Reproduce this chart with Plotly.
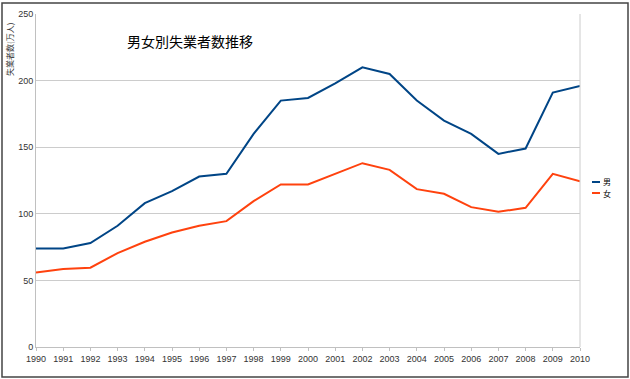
import plotly.graph_objects as go

years = [str(y) for y in range(1990, 2011)]
male = [74, 74, 78, 91, 108, 117, 128, 130, 160, 185, 187, 198, 210, 205, 185, 170, 160, 145, 149, 191, 196]
female = [56, 58.5, 59.5, 70.5, 79, 86, 91, 94.5, 109.5, 122, 122, 130, 138, 133, 118.5, 115, 105, 101.5, 104.5, 130, 124.5]
yticks = [0, 50, 100, 150, 200, 250]
series_names = ["男", "女"]
series_colors = ["#004586", "#ff420e"]

FONT = "Noto Sans CJK JP"
W, H = 630, 379
L, R, T, B = 36, 50, 14, 32
pw, ph = W - L - R, H - T - B

def px(x):
    return (x - L) / pw

def py(y):
    return (H - B - y) / ph

fig = go.Figure()
for name, vals, col in zip(series_names, [male, female], series_colors):
    fig.add_trace(go.Scatter(x=years, y=vals, name=name, mode="lines",
                             line=dict(color=col, width=2)))

annotations = [dict(text="男女別失業者数推移", x=px(190), y=py(41), xref="paper", yref="paper",
                    showarrow=False, font=dict(size=14, family=FONT, color="#000000"),
                    xanchor="center", yanchor="middle"),
               dict(text="失業者数(万人)", x=px(9), y=py(50), xref="paper", yref="paper",
                    showarrow=False, textangle=-90, font=dict(size=8, family=FONT, color="#333333"),
                    xanchor="center", yanchor="middle")]
shapes = [
    dict(type="line", xref="paper", yref="paper", x0=1, x1=1, y0=0, y1=1,
         line=dict(color="#cccccc", width=1)),
    dict(type="rect", xref="paper", yref="paper", x0=px(2), x1=px(628), y0=py(377), y1=py(3),
         line=dict(color="#444444", width=1.5), layer="below"),
]
for i, (name, col) in enumerate(zip(series_names, series_colors)):
    yy = 182 + i * 11
    shapes.append(dict(type="line", xref="paper", yref="paper", x0=px(592), x1=px(600),
                       y0=py(yy), y1=py(yy), line=dict(color=col, width=2)))
    annotations.append(dict(text=name, x=px(601), y=py(yy), xref="paper", yref="paper",
                            showarrow=False, font=dict(size=8, family=FONT, color="#000000"),
                            xanchor="left", yanchor="middle"))

fig.update_layout(
    width=W, height=H,
    margin=dict(l=L, r=R, t=T, b=B, autoexpand=False),
    paper_bgcolor="white", plot_bgcolor="white",
    font=dict(family=FONT, size=9, color="#333333"),
    showlegend=False,
    xaxis=dict(type="category", range=[0, 20], showgrid=False, automargin=False,
               showline=True, linecolor="#c0c0c0", linewidth=1,
               ticks="outside", ticklen=3, tickcolor="#c0c0c0",
               tickfont=dict(size=9, family="Liberation Sans", color="#333333"),
               tickangle=0),
    yaxis=dict(range=[0, 250], tickvals=yticks, showgrid=True, automargin=False,
               gridcolor="#cccccc", gridwidth=1, zeroline=False,
               showline=True, linecolor="#c0c0c0", linewidth=1,
               ticks="", tickfont=dict(size=9, family="Liberation Sans", color="#333333")),
    annotations=annotations,
    shapes=shapes,
)

fig.write_html("out.html", config={"displayModeBar": False},
               post_script="document.body.style.margin='0';document.body.style.overflow='hidden';")
